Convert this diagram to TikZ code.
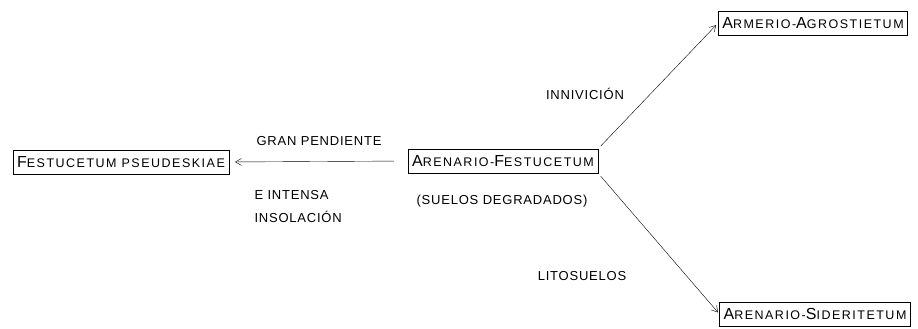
\documentclass[tikz,border=0pt]{standalone}
\usepackage{fontspec}
\setmainfont{Liberation Sans}
\usetikzlibrary{arrows.meta}
% first letter large, rest in small capitals
\newcommand{\capl}[1]{{\fontsize{16}{16}\selectfont #1}}
\newcommand{\lowc}[1]{{\fontsize{12.5}{13}\selectfont #1}}
\newfontfamily\spaced[LetterSpace=12]{Liberation Sans}
\newfontfamily\spacedlab[LetterSpace=6]{Liberation Sans}

\begin{document}
\begin{tikzpicture}
	[x=1pt,y=-1pt,thin,
	boxnode/.style={draw,inner xsep=4pt,minimum height=24pt,font=\spaced},
	labelnode/.style={font=\spacedlab\fontsize{13}{23}\selectfont},
	flow/.style={-{Straight Barb[length=6pt,width=7pt]}}]
	\useasboundingbox (0,0) rectangle (918,329);
	% plant communities
	\node[boxnode] (fp) at (121,162) {\capl{F}\lowc{ESTUCETUM PSEUDESKIAE}};
	\node[boxnode] (af) at (503,161) {\capl{A}\lowc{RENARIO-}\capl{F}\lowc{ESTUCETUM}};
	\node[boxnode] (aa) at (813,23) {\capl{A}\lowc{RMERIO-}\capl{A}\lowc{GROSTIETUM}};
	\node[boxnode] (as) at (815,314) {\capl{A}\lowc{RENARIO-}\capl{S}\lowc{IDERITETUM}};
	\draw[very thick] ([xshift=4pt]fp.south west) -- (fp.south east);
	% factors
	\node[labelnode] (gp) at (319,141) {GRAN PENDIENTE};
	\node[labelnode,anchor=west,align=left] (ei) at (251,207) {E INTENSA\\INSOLACIÓN};
	\node[labelnode] (sd) at (502,201) {(SUELOS DEGRADADOS)};
	\node[labelnode] (in) at (585,94) {INNIVICIÓN};
	\node[labelnode] (li) at (582,276) {LITOSUELOS};
	% transitions
	\draw[flow,shorten <=14pt,shorten >=6pt] (af.west) -- (fp.east);
	\draw[flow,shorten <=4pt,shorten >=3pt] (af.north east) -- (aa.west);
	\draw[flow,shorten <=4pt,shorten >=2pt] (af.south east) -- (as.west);
\end{tikzpicture}
\end{document}
